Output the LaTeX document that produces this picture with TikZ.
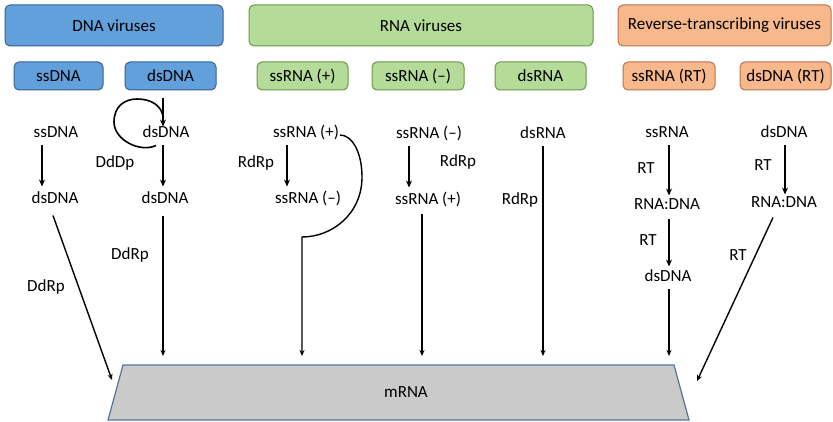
\documentclass[tikz,border=0pt]{standalone}
\usepackage{fontspec}
\setmainfont{Carlito}
\usetikzlibrary{arrows.meta}
\definecolor{bfill}{RGB}{98,160,220}
\definecolor{bdraw}{RGB}{55,95,145}
\definecolor{gfill}{RGB}{180,219,152}
\definecolor{gdraw}{RGB}{105,150,75}
\definecolor{ofill}{RGB}{247,184,140}
\definecolor{odraw}{RGB}{185,115,75}
\definecolor{mfill}{RGB}{202,202,202}
\definecolor{mdraw}{RGB}{85,115,155}
\begin{document}
\begin{tikzpicture}[x=1pt,y=-1pt,
  font=\fontsize{17}{20}\selectfont,
  box/.style={rounded corners=5pt, line width=1pt, inner sep=0pt, minimum height=#1},
  bluebox/.style={box=41pt, fill=bfill, draw=bdraw},
  greenbox/.style={box=41pt, fill=gfill, draw=gdraw},
  orangebox/.style={box=41pt, fill=ofill, draw=odraw},
  bluesub/.style={box=28pt, fill=bfill, draw=bdraw},
  greensub/.style={box=28pt, fill=gfill, draw=gdraw},
  orangesub/.style={box=28pt, fill=ofill, draw=odraw},
  lbl/.style={inner sep=0pt, text height=11pt, text depth=2pt, outer sep=6pt},
  enz/.style={inner sep=0pt},
  arr/.style={line width=1.6pt, -{Stealth[length=7pt,width=6pt]}},
  ln/.style={line width=1.4pt, -{Stealth[length=6pt,width=5pt]}},
  plain/.style={line width=1.6pt}
]
\useasboundingbox (0,0) rectangle (833,422);

% header boxes
\node[bluebox, minimum width=218pt] (dnav) at (114,25.5) {DNA viruses};
\node[greenbox, minimum width=344pt] (rnav) at (421,25.5) {RNA viruses};
\node[orangebox, minimum width=213pt] (rtv) at (724.5,25.5) {Reverse-transcribing viruses};

% sub boxes
\node[bluesub, minimum width=89pt] (s1) at (58.5,76) {ssDNA};
\node[bluesub, minimum width=91pt] (s2) at (170.5,76) {dsDNA};
\node[greensub, minimum width=91pt] (s3) at (302.5,76) {ssRNA (+)};
\node[greensub, minimum width=92pt] (s4) at (418,76) {ssRNA (--)};
\node[greensub, minimum width=91pt] (s5) at (540.5,76) {dsRNA};
\node[orangesub, minimum width=92pt] (s6) at (669,76) {ssRNA (RT)};
\node[orangesub, minimum width=91pt] (s7) at (785.5,76) {dsDNA (RT)};

% mRNA trapezoid
\draw[fill=mfill, draw=mdraw, line width=1.2pt] (123,365) -- (674,365) -- (689,420) -- (108,420) -- cycle;
\node[enz] (mrna) at (406,392) {mRNA};

% column 1: ssDNA
\node[lbl] (a1) at (56,133) {ssDNA};
\node[lbl] (a2) at (55,199) {dsDNA};
\coordinate (t1) at (112,380);
\draw[arr] ([xshift=-14pt]a1.south) -- ([xshift=-13pt]a2.north);
\draw[ln] ([xshift=-2pt,yshift=-4pt]a2.south) -- (t1);
\node[enz] (e1) at (46,287) {DdRp};

% column 2: dsDNA
\node[lbl] (b1) at (166,133) {dsDNA};
\node[lbl] (b2) at (165,199) {dsDNA};
\coordinate (t2) at (163,356);
\coordinate (lt) at (163,98);
\draw[plain] ([xshift=-10pt]b1.south) .. controls (140,153) and (114,140) .. (114,122)
  .. controls (114,106) and (125,99) .. (137,99)
  .. controls (152,99) and (161,106) .. (163,116);
\draw[arr] (lt) -- ([xshift=-3pt,yshift=-6pt]b1.north);
\draw[arr] ([xshift=-3pt]b1.south) -- ([xshift=-2pt]b2.north);
\draw[ln] ([xshift=-2pt,yshift=-5pt]b2.south) -- (t2);
\node[enz] (e2) at (115,163) {DdDp};
\node[enz] (e3) at (130,255) {DdRp};

% column 3: ssRNA (+)
\node[lbl] (c1) at (306,133) {ssRNA (+)};
\node[lbl] (c2) at (308,199) {ssRNA (--)};
\coordinate (t3) at (302,356);
\draw[arr] ([xshift=-19pt]c1.south) -- ([xshift=-21pt]c2.north);
\draw[ln] ([xshift=-5pt,yshift=-2pt]c1.east) .. controls (352,135) and (362,152) .. (362,177)
  .. controls (362,214) and (332,237) .. (302,237) -- (t3);
\node[enz] (e4) at (256,163) {RdRp};

% column 4: ssRNA (-)
\node[lbl] (d1) at (429,134) {ssRNA (--)};
\node[lbl] (d2) at (428,200) {ssRNA (+)};
\coordinate (t4) at (422,356);
\draw[arr] ([xshift=-20pt]d1.south) -- ([xshift=-19pt]d2.north);
\draw[ln] ([xshift=-6pt,yshift=-2pt]d2.south) -- (t4);
\node[enz] (e5) at (458,162) {RdRp};

% column 5: dsRNA
\node[lbl] (f1) at (543,134) {dsRNA};
\coordinate (t5) at (543,356);
\draw[ln] (f1.south) -- (t5);
\node[enz] (e6) at (520,200) {RdRp};

% column 6: ssRNA (RT)
\node[lbl] (g1) at (667,133) {ssRNA};
\node[lbl] (g2) at (667,205) {RNA:DNA};
\node[lbl] (g3) at (668,277) {dsDNA};
\coordinate (t6) at (669,356);
\draw[arr] ([xshift=2pt]g1.south) -- ([xshift=2pt,yshift=-3pt]g2.north);
\draw[arr] ([xshift=2pt,yshift=-2pt]g2.south) -- ([xshift=1pt,yshift=-2pt]g3.north);
\draw[ln] ([xshift=1pt]g3.south) -- (t6);
\node[enz] (e7) at (646,168) {RT};
\node[enz] (e8) at (648,240) {RT};

% column 7: dsDNA (RT)
\node[lbl] (h1) at (784,133) {dsDNA};
\node[lbl] (h2) at (784,203) {RNA:DNA};
\coordinate (t7) at (697,381);
\draw[arr] ([xshift=1pt]h1.south) -- ([xshift=1pt,yshift=-4pt]h2.north);
\draw[ln] ([xshift=-11pt,yshift=-2pt]h2.south) -- (t7);
\node[enz] (e9) at (763,165) {RT};
\node[enz] (e10) at (738,255) {RT};
\end{tikzpicture}
\end{document}
